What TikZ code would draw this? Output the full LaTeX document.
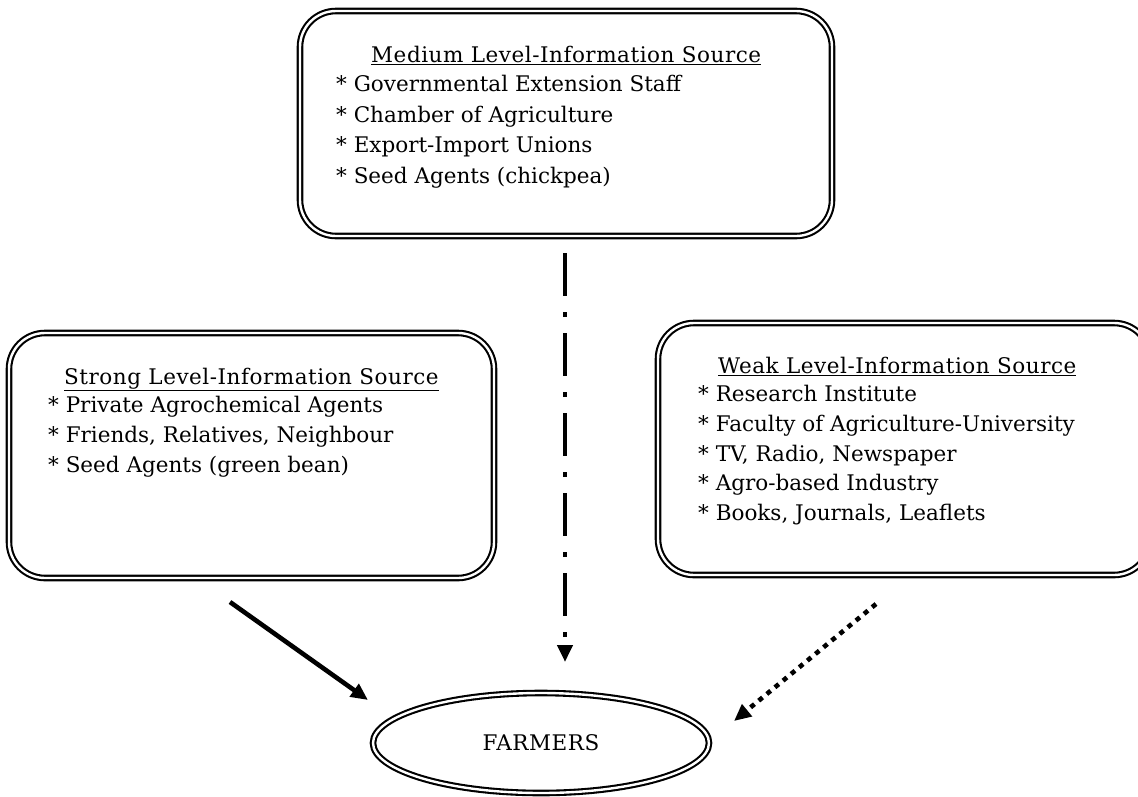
\documentclass[tikz,border=0pt]{standalone}
\usepackage{fontspec}
\setmainfont{DejaVu Serif}
\newfontfamily\spacedfont[LetterSpace=2.5]{DejaVu Serif}
\usetikzlibrary{arrows.meta,shapes.geometric}
\begin{document}
\begin{tikzpicture}[x=1pt,y=-1pt,
  dbl/.style={draw=black,double=white,double distance=2.4pt,line width=2.1pt,rounded corners=36pt},
  txt/.style={anchor=base west,inner sep=0pt,font=\fontsize{21.5}{24}\selectfont},
  ttl/.style={anchor=base west,inner sep=0pt,font=\spacedfont\fontsize{21.5}{24}\selectfont},
  arr/.style={line width=4.6pt,-{Triangle[width=15pt,length=17pt]}}]
\useasboundingbox (0,0) rectangle (1138,796);
\clip (0,0) rectangle (1138,796);
% boxes
\draw[dbl] (300,11) rectangle (832,236);
\draw[dbl] (9,333) rectangle (494,578);
\draw[dbl] (658,323) rectangle (1150,575);
\coordinate (topb) at (565,253);
\coordinate (leftb) at (230,602);
\coordinate (rightb) at (876,604);
% titles
\node[ttl] (tm) at (371,62) {\underline{Medium Level-Information Source}};
\node[ttl] (ts) at (64,384) {\underline{Strong Level-Information Source}};
\node[ttl] (tw) at (718,373) {\underline{Weak Level-Information Source}};
% medium items
\node[txt] (m1) at (336,91) {* Governmental Extension Staff};
\node[txt] (m2) at (336,122) {* Chamber of Agriculture};
\node[txt] (m3) at (336,152) {* Export-Import Unions};
\node[txt] (m4) at (336,183) {* Seed Agents (chickpea)};
% strong items
\node[txt] (s1) at (48,412) {* Private Agrochemical Agents};
\node[txt] (s2) at (48,442) {* Friends, Relatives, Neighbour};
\node[txt] (s3) at (48,472) {* Seed Agents (green bean)};
% weak items
\node[txt] (w1) at (698,401) {* Research Institute};
\node[txt] (w2) at (698,431) {* Faculty of Agriculture-University};
\node[txt] (w3) at (698,461) {* TV, Radio, Newspaper};
\node[txt] (w4) at (698,490) {* Agro-based Industry};
\node[txt] (w5) at (698,520) {* Books, Journals, Leaflets};
% farmers
\node[draw=black,double=white,double distance=2.4pt,line width=2.1pt,ellipse,minimum width=336pt,minimum height=100pt,font=\spacedfont\fontsize{21.5}{24}\selectfont] (f) at (541,743) {FARMERS};
% arrows
\draw[arr] (leftb) -- (368,700);
\draw[arr,dash pattern=on 43pt off 16pt on 5pt off 16pt] (topb) -- (565,662);
\draw[arr,dash pattern=on 5pt off 5.5pt] (rightb) -- (734,721);
\end{tikzpicture}
\end{document}
